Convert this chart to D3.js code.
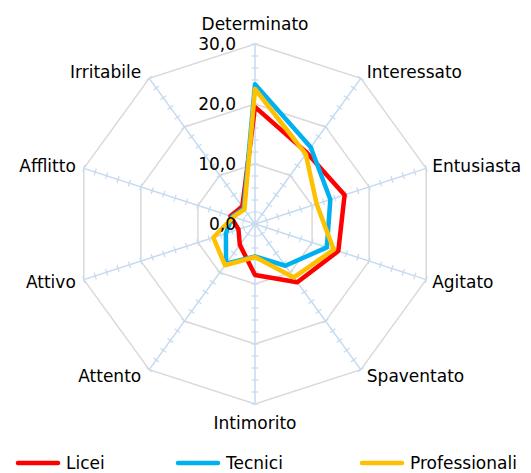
<!DOCTYPE html>
<html>
<head>
<meta charset="utf-8">
<script src="https://cdn.jsdelivr.net/npm/d3@7"></script>
<style>
  html, body { margin: 0; padding: 0; background: #ffffff; }
  svg { display: block; }
  text { font-family: "DejaVu Sans", sans-serif; fill: #000; }
</style>
</head>
<body>
<svg id="chart" width="531" height="473"></svg>
<script>
// ---- data ----
const categories = ["Determinato", "Interessato", "Entusiasta", "Agitato", "Spaventato",
                    "Intimorito", "Attento", "Attivo", "Afflitto", "Irritabile"];
const seriesNames = ["Licei", "Tecnici", "Professionali"];
const licei         = [19.5, 14.7, 15.7, 14.6, 12.0, 8.5, 4.3, 2.9, 4.3, 3.6];
const tecnici       = [23.3, 15.8, 13.2, 12.6, 8.6, 5.4, 8.2, 5.1, 4.0, 3.2];
const professionali = [22.5, 14.4, 10.8, 13.8, 11.0, 5.5, 8.5, 7.3, 3.8, 3.0];
const tickValues = [0, 10, 20, 30];
const tickLabels = ["0,0", "10,0", "20,0", "30,0"];
const minorStep = 2;
const seriesColors = ["#ff0000", "#00b0f0", "#ffc000"];

// ---- layout ----
const svg = d3.select("#chart");
const cx = 255, cy = 224, R = 180;
const rScale = d3.scaleLinear().domain([0, 30]).range([0, R]);
const aScale = d3.scaleLinear().domain([0, categories.length]).range([0, 2 * Math.PI]);
const g = svg.append("g").attr("transform", `translate(${cx},${cy})`);

const pt = (i, v) => {
  const a = aScale(i), r = rScale(v);
  return [r * Math.sin(a), -r * Math.cos(a)];
};

// grid polygons (major)
tickValues.filter(v => v > 0).forEach(v => {
  g.append("polygon")
    .attr("points", categories.map((c, i) => pt(i, v).join(",")).join(" "))
    .attr("fill", "none")
    .attr("stroke", "#d9d9d9")
    .attr("stroke-width", 1.5);
});

// spokes
const spokeColor = "#c5daf0";
categories.forEach((c, i) => {
  const [x2, y2] = pt(i, 30);
  g.append("line").attr("x1", 0).attr("y1", 0).attr("x2", x2).attr("y2", y2)
    .attr("stroke", spokeColor).attr("stroke-width", 1.5);
  const a = aScale(i);
  const px = Math.cos(a), py = Math.sin(a); // perpendicular unit
  for (let v = minorStep; v <= 30 + 1e-9; v += minorStep) {
    const [x, y] = pt(i, v);
    g.append("line")
      .attr("x1", x - px * 3.5).attr("y1", y - py * 3.5)
      .attr("x2", x + px * 3.5).attr("y2", y + py * 3.5)
      .attr("stroke", spokeColor).attr("stroke-width", 1.2);
  }
});

// series lines
const radial = d3.lineRadial()
  .angle((d, i) => aScale(i))
  .radius(d => rScale(d))
  .curve(d3.curveLinearClosed);
[licei, tecnici, professionali].forEach((vals, k) => {
  g.append("path")
    .attr("d", radial(vals))
    .attr("fill", "none")
    .attr("stroke", seriesColors[k])
    .attr("stroke-width", 4.5)
    .attr("stroke-linejoin", "round");
});

// value axis labels
tickValues.forEach((v, j) => {
  g.append("text")
    .attr("x", -19).attr("y", -rScale(v))
    .attr("dy", "0.35em")
    .attr("text-anchor", "end")
    .style("font-size", "17px")
    .text(tickLabels[j]);
});

// category labels
categories.forEach((c, i) => {
  const a = aScale(i);
  const [x, y] = pt(i, 30);
  const s = Math.sin(a), co = Math.cos(a);
  let anchor = "middle", tx = x, ty = y;
  if (Math.abs(s) < 1e-6) {
    anchor = "middle";
    ty = co > 0 ? y - 14 : y + 13;
  } else {
    anchor = s > 0 ? "start" : "end";
    tx = x + (s > 0 ? 6 : -8);
    ty = y - 8 * co;
  }
  g.append("text")
    .attr("x", tx).attr("y", ty)
    .attr("dy", Math.abs(s) < 1e-6 ? (co > 0 ? "0" : "0.7em") : "0.35em")
    .attr("text-anchor", anchor)
    .style("font-size", "17px")
    .text(c);
});

// legend
const legendX = [18, 178, 362];
const legendY = 463;
seriesNames.forEach((n, k) => {
  svg.append("line")
    .attr("x1", legendX[k]).attr("x2", legendX[k] + 40)
    .attr("y1", legendY).attr("y2", legendY)
    .attr("stroke", seriesColors[k]).attr("stroke-width", 4.5)
    .attr("stroke-linecap", "round");
  svg.append("text")
    .attr("x", legendX[k] + 48).attr("y", legendY)
    .attr("dy", "0.35em")
    .style("font-size", "17px")
    .text(n);
});
</script>
</body>
</html>
